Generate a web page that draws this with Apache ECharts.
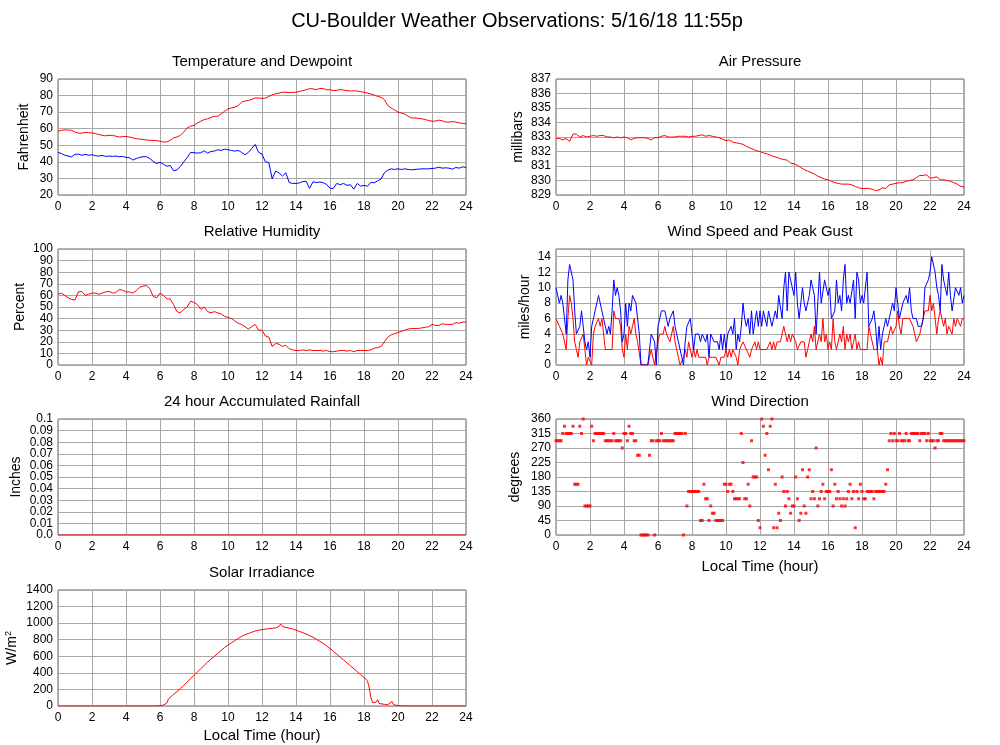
<!DOCTYPE html>
<html>
<head>
<meta charset="utf-8">
<script src="https://cdn.jsdelivr.net/npm/echarts@6/dist/echarts.min.js"></script>
<style>
html,body{margin:0;padding:0;background:#fff;}
#chart{width:1000px;height:745px;}
</style>
</head>
<body>
<div id="chart"></div>
<script>
// ---- Data ----
const hourTicks = [0,2,4,6,8,10,12,14,16,18,20,22,24];

// 0.2-hour samples, 0..24 h
const temperature = [58.5,59,59.3,59.2,59,58,57.3,57.3,57.8,57.6,
57.5,57,56.5,56,55.7,56,56,55.5,55,55.2,
55.3,55,54.5,54,53.8,53.5,53.2,53,53,52.8,
52.5,52,52,53,54.5,55,56,58,60.5,61.5,
62,63.5,64.5,65.5,66,66.8,67.5,67.5,69,70.5,
72,72.5,73,74,76,76.8,77,77.8,78.5,78.5,
78.3,78.5,79.5,80.5,81,81.5,82,82,81.8,82,
82,82.5,83,83.5,84.2,84,83.6,84.3,84.2,83.5,
83.5,83,83.2,83.6,83.3,83,82.8,82.8,82.8,82.3,
82,81.5,81,80.3,79.5,79,77.5,74,72.5,71.3,
70,69.5,68.8,67.5,66.5,66.5,66.2,66,65.5,65,
64.5,64.6,65.2,64.8,64,64,64.3,64,63.5,63.2,
63];

const dewpoint = [45.7,45,44,43.5,43,44.6,44.6,44,44.5,44,
44.3,43.7,43.5,43.9,43.3,43.5,43.3,43.5,43.1,43.3,
42.7,42.5,41.1,42,42.7,43.1,43.1,42,40.3,39,
39.7,38.6,37.4,37.8,34.6,35.2,37.2,40,42.6,45.7,
45.5,45.3,45.5,46.7,45.3,46.3,46.5,47.3,46.9,47.7,
47.3,46.9,46.5,46.9,45.7,44.3,45.7,48.1,50.5,45.7,
44.7,40,39.6,29.7,34.4,33.4,31.4,33.4,27.5,27,
27,27.3,28.1,28.3,24,28,27.5,27.8,27.4,26.4,
24,24,27,26.2,27,25.8,26.2,23.5,27,25.3,
25.8,25.3,27.6,27.4,28.5,29.6,33.4,35,35.8,35.4,
35.8,35.4,35.8,35.4,35.2,35.4,35.6,35.8,35.8,35.8,
36,36.2,36.8,36.2,36.4,36.2,35.6,36.6,36.2,37,
36.6];

const humidity = [61,62,60,58,56.5,56,63,63.5,60,61,
62,62,61,62,63,63.5,62,62.5,65,64.5,
63,63,62,64,67,68,68.5,66,59,58,
62,60,57,57,52,46,45,48,50,55,
54,52,48,50,46,45,46,45,44,42,
41,40,38,36,35,33,31,33,35,30,
30,25,24,16,18.5,18,16,17,14,13,
12.5,12.5,13,12.5,13,12.5,12.5,12.5,12,12.5,
11.5,11.5,12,12.5,12.5,12,12.5,11.5,12.5,12.5,
12.5,12.5,13,14.5,15,16,20,24,26,27,
28,29,30,31,31.5,31.5,31.5,32,32.5,33,
35,34,34,35.5,35,35,35,36.5,36,37,
37];

const pressure = [832.9,832.9,832.8,832.9,832.7,833.2,833.2,833.0,833.1,833.0,
833.05,833.1,833.05,833.1,833.1,833.0,833.0,832.95,833.0,832.95,
833.0,832.95,832.8,832.9,832.95,832.95,832.95,832.9,832.8,832.95,
832.95,833.05,833.1,833.0,833.0,833.0,833.05,833.05,833.05,833.0,
833.05,833.05,833.1,833.15,833.05,833.1,833.05,833.0,832.95,832.85,
832.75,832.8,832.65,832.6,832.55,832.5,832.35,832.25,832.15,832.05,
832.0,831.9,831.85,831.75,831.65,831.6,831.5,831.45,831.4,831.2,
831.15,831.05,830.9,830.75,830.65,830.55,830.45,830.3,830.2,830.1,
830.05,829.95,829.85,829.8,829.75,829.75,829.75,829.7,829.6,829.5,
829.45,829.45,829.45,829.4,829.3,829.35,829.5,829.45,829.7,829.75,
829.8,829.85,829.85,829.95,830.0,830.05,830.2,830.35,830.35,830.4,
830.15,830.2,830.25,830.05,830.05,830.0,829.95,829.85,829.75,829.6,
829.55];

// 0.1-hour samples, 0..24 h
const windGust = [10,9,8,9,8,6,4,11,13,13,
11,7,4,4,5,7,7,3,2,3,
1,5,6,7,8,9,8,8,6,5,
4,5,4,7,11,9,10,9,7,3,
4,8,5,8,7,9,9,8,8,4,
0,0,0,0,0,2,4,4,3,0,
5,5,7,7,7,7,5,6,6,7,
5,4,3,2,1,0,3,5,5,6,
4,2,4,4,4,3,4,4,3,4,
1,4,4,3,3,3,2,4,2,4,
2,4,4,5,4,6,2,4,3,5,
8,6,5,6,4,7,4,4,7,5,
7,5,7,7,5,7,6,5,6,7,
6,9,9,6,10,12,7,12,11,10,
9,12,8,6,6,10,8,7,7,9,
11,10,9,4,8,12,8,8,11,10,
9,10,6,6,7,11,8,9,7,11,
13,8,9,8,8,11,6,12,11,8,
9,8,8,12,5,5,6,7,5,2,
5,2,4,5,6,5,5,7,8,7,
10,8,6,7,8,8,9,8,10,7,
6,6,6,5,5,5,6,10,10,11,
12,14,14,12,10,9,7,13,11,11,
9,12,9,7,7,10,10,9,10,8,
9];

const windSpeed = [6,6,5,5,4,3,2,6,9,8,
6,3,2,1,3,3,4,2,0,1,
1,0,4,5,5,6,5,6,4,2,
2,2,2,2,7,6,6,6,5,2,
1,4,2,5,4,5,6,4,3,3,
0,0,0,0,0,1,2,2,0,0,
3,4,4,4,5,4,4,3,3,5,
3,2,1,0,0,1,2,1,3,2,
1,2,1,2,1,1,1,1,1,0,
1,1,1,1,1,1,0,1,1,1,
2,1,2,1,2,2,1,0,2,2,
3,3,2,2,1,2,2,3,2,3,
2,2,2,2,2,2,3,2,3,2,
3,3,3,3,5,5,3,4,3,4,
4,3,2,2,3,3,3,1,2,3,
4,3,5,2,2,4,3,6,3,4,
2,3,2,6,3,2,3,4,3,5,
2,4,3,4,2,3,4,2,3,2,
2,2,2,2,5,4,4,2,2,2,
0,1,0,3,3,3,4,5,4,4,
5,7,5,4,6,6,6,6,6,6,
5,4,3,3,4,5,6,7,7,7,
9,7,8,6,4,6,7,7,5,6,
4,5,5,4,6,5,6,6,5,6,
6];

const windDirection = [292.5,292.5,292.5,292.5,315,337.5,315,315,315,315,
337.5,157.5,157.5,157.5,337.5,315,360,90,90,90,
90,337.5,292.5,315,315,315,315,315,315,292.5,
292.5,292.5,292.5,292.5,315,292.5,292.5,292.5,292.5,270,
315,315,292.5,337.5,315,315,292.5,292.5,247.5,247.5,
0,0,0,0,0,247.5,292.5,292.5,0,292.5,
292.5,292.5,315,292.5,292.5,292.5,292.5,292.5,292.5,292.5,
315,315,315,315,315,0,315,90,135,135,
135,135,135,135,135,45,45,157.5,112.5,112.5,
45,90,67.5,67.5,45,45,45,45,45,157.5,
157.5,135,157.5,157.5,135,112.5,112.5,112.5,112.5,315,
225,112.5,112.5,157.5,90,292.5,180,180,180,45,
22.5,360,337.5,247.5,315,202.5,337.5,360,22.5,157.5,
22.5,67.5,45,180,135,90,135,112.5,67.5,90,
90,180,112.5,45,67.5,202.5,90,67.5,180,202.5,
112.5,135,112.5,270,90,112.5,135,157.5,112.5,135,
135,135,202.5,90,157.5,112.5,135,112.5,90,112.5,
90,112.5,135,157.5,112.5,135,22.5,135,112.5,157.5,
135,112.5,112.5,135,135,135,135,112.5,135,135,
135,135,135,135,157.5,202.5,292.5,315,292.5,315,
292.5,292.5,315,292.5,292.5,292.5,315,292.5,292.5,315,
315,315,315,315,292.5,315,315,315,292.5,315,
292.5,292.5,292.5,270,292.5,292.5,315,315,292.5,292.5,
292.5,292.5,292.5,292.5,292.5,292.5,292.5,292.5,292.5,292.5,
292.5];

const rainTimes = [0, 24];
const rainfall = [0, 0];

const solarTimes = [0,5.8,6.0,6.2,6.4,6.5,6.6,6.8,7.0,7.2,7.4,7.6,7.8,8.0,8.2,8.4,8.6,8.8,9.0,9.2,9.4,9.6,9.8,
10.0,10.2,10.4,10.6,10.8,11.0,11.2,11.4,11.6,11.8,12.0,12.2,12.4,12.6,12.8,13.0,13.1,13.2,13.4,13.6,13.8,
14.0,14.2,14.4,14.6,14.8,15.0,15.2,15.4,15.6,15.8,16.0,16.2,16.4,16.6,16.8,17.0,17.2,17.4,17.6,17.8,
18.0,18.2,18.3,18.4,18.5,18.6,18.7,18.8,18.9,19.0,19.2,19.4,19.5,19.65,19.75,19.8,20.0,20.2,20.4,24];
const solar = [0,0,5,10,35,85,105,140,175,210,250,290,330,370,410,450,490,530,565,600,635,670,705,
735,762,790,815,840,860,875,890,905,915,922,928,933,938,942,960,990,960,948,940,930,
915,900,885,868,850,830,805,780,755,725,695,660,625,590,555,520,485,450,415,380,
345,305,230,110,40,30,45,75,30,22,20,15,20,55,15,12,5,2,0,0];

// ---- helpers that pair values with their hour ----
const pairStep = (arr, step) => arr.map((v, i) => [i * step, v]);
const pairT = (ts, vs) => vs.map((v, i) => [ts[i], v]);

const FONT = 'Liberation Sans, Arial, Helvetica, sans-serif';
const GRID_COLOR = '#a8a8a8';

const panels = [
  {title:'Temperature and Dewpoint', left:58, top:79, yName:'Fahrenheit', nameGap:27, min:20, max:90, interval:10},
  {title:'Air Pressure', left:556, top:79, yName:'millibars', nameGap:31, min:829, max:837, interval:1},
  {title:'Relative Humidity', left:58, top:249, yName:'Percent', nameGap:31, min:0, max:100, interval:10, dense:true},
  {title:'Wind Speed and Peak Gust', left:556, top:249, yName:'miles/hour', nameGap:24, min:0, max:15, interval:2, hideMax:true},
  {title:'24 hour Accumulated Rainfall', left:58, top:419, yName:'Inches', nameGap:35, min:0, max:0.1, interval:0.01, rain:true, dense:true},
  {title:'Wind Direction', left:556, top:419, yName:'degrees', nameGap:34, min:0, max:360, interval:45, xName:true, xNameGap:24},
  {title:'Solar Irradiance', left:58, top:590, yName:'W/m{sup|2}', nameGap:37, min:0, max:1400, interval:200, xName:true, xNameGap:22}
];
const GW = 408, GH = 116;

const titles = [{
  text:'CU-Boulder Weather Observations: 5/16/18 11:55p',
  left:517, top:11, textAlign:'center', padding:0,
  textStyle:{fontFamily:FONT, fontSize:20, fontWeight:'normal', color:'#000'}
}];
const grids = [], xAxes = [], yAxes = [], extraY = [];
const labelFmt = p => v => {
  if (p.hideMax && v === p.max) return '';
  if (p.rain) return v === 0 ? '0.0' : String(+v.toFixed(2));
  return String(v);
};
panels.forEach((p, k) => {
  titles.push({text:p.title, left:p.left + GW/2, top:p.top - 25, textAlign:'center', padding:0,
    textStyle:{fontFamily:FONT, fontSize:15, fontWeight:'normal', color:'#000'}});
  grids.push({left:p.left, top:p.top, width:GW, height:GH, show:true, borderColor:'#666', borderWidth:1, backgroundColor:'#fff', containLabel:false});
  xAxes.push({gridIndex:k, type:'value', min:0, max:24, interval:2,
    name: p.xName ? 'Local Time (hour)' : '', nameLocation:'middle', nameGap:p.xNameGap || 22,
    nameTextStyle:{fontFamily:FONT, fontSize:15, color:'#000'},
    axisLine:{show:false}, axisTick:{show:false},
    axisLabel:{color:'#000', fontFamily:FONT, fontSize:12, margin:6, showMinLabel:true, showMaxLabel:true, hideOverlap:false},
    splitLine:{show:true, lineStyle:{color:GRID_COLOR, width:1}}});
  yAxes.push({gridIndex:k, type:'value', position:'left', min:p.min, max:p.max, interval:p.interval,
    name:p.yName, nameLocation:'middle', nameRotate:90, nameGap:p.nameGap,
    nameTextStyle:{fontFamily:FONT, fontSize:14, color:'#000', rich:{sup:{fontFamily:FONT, fontSize:9, verticalAlign:'top', padding:[0,0,8,0]}}},
    axisLine:{show:false}, axisTick:{show:false},
    axisLabel:{color:'#000', fontFamily:FONT, fontSize:12, margin:5,
      showMinLabel: p.dense ? false : true, showMaxLabel: (p.dense || p.hideMax) ? false : true, hideOverlap:false,
      formatter: labelFmt(p)},
    splitLine:{show:true, lineStyle:{color:GRID_COLOR, width:1}}});
  if (p.dense) {
    // companion axis that carries only the end labels (min and max)
    extraY.push({gridIndex:k, type:'value', position:'left', min:p.min, max:p.max, interval:p.interval,
      axisLine:{show:false}, axisTick:{show:false}, splitLine:{show:false},
      axisLabel:{color:'#000', fontFamily:FONT, fontSize:12, margin:5, customValues:[p.min, p.max],
        showMinLabel:true, showMaxLabel:true, hideOverlap:false, formatter: labelFmt(p)}});
  }
});

const lineSeries = (k, data, color, z) => ({type:'line', xAxisIndex:k, yAxisIndex:k, data, showSymbol:false, symbol:'none',
  lineStyle:{color, width:1}, itemStyle:{color}, z: z || 2, animation:false});

const series = [
  lineSeries(0, pairStep(temperature, 0.2), '#ff0000'),
  lineSeries(0, pairStep(dewpoint, 0.2), '#0000ff'),
  lineSeries(1, pairStep(pressure, 0.2), '#ff0000'),
  lineSeries(2, pairStep(humidity, 0.2), '#ff0000'),
  lineSeries(3, pairStep(windSpeed, 0.1), '#ff0000', 2),
  lineSeries(3, pairStep(windGust, 0.1), '#0000ff', 3),
  lineSeries(4, pairT(rainTimes, rainfall), '#ff0000', 5),
  {type:'scatter', xAxisIndex:5, yAxisIndex:5, data:pairStep(windDirection, 0.1), symbol:'rect', symbolSize:3,
    itemStyle:{color:'#ff0000'}, animation:false},
  lineSeries(6, pairT(solarTimes, solar), '#ff0000')
];

const chart = echarts.init(document.getElementById('chart'), null, {renderer:'canvas'});
chart.setOption({
  backgroundColor:'#fff',
  animation:false,
  title:titles,
  grid:grids,
  xAxis:xAxes,
  yAxis:yAxes.concat(extraY),
  series
});
</script>
</body>
</html>
